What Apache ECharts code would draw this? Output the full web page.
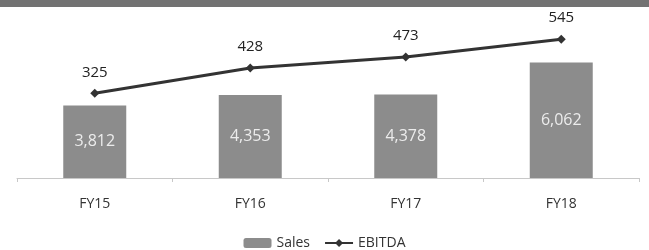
<!DOCTYPE html>
<html>
<head>
<meta charset="utf-8">
<script src="https://cdn.jsdelivr.net/npm/echarts@6/dist/echarts.min.js"></script>
<style>
  html, body { margin: 0; padding: 0; background: #fff; }
  #chart { width: 649px; height: 250px; }
</style>
</head>
<body>
<div id="chart"></div>
<script>
// data
var years = ['FY15', 'FY16', 'FY17', 'FY18']
var sales = [3812, 4353, 4378, 6062]
var ebitda = [325, 428, 473, 545]

var chart = echarts.init(document.getElementById('chart'))

chart.setOption({
  animation: false,
  textStyle: { fontFamily: 'Open Sans' },
  graphic: [
    {
      type: 'rect',
      left: 0, top: 0,
      shape: { width: 649, height: 7 },
      style: { fill: '#727272' }
    }
  ],
  legend: {
    top: 231,
    left: 'center',
    itemGap: 14,
    itemWidth: 28,
    itemHeight: 10,
    textStyle: { fontSize: 14, color: '#333' },
    data: ['Sales', 'EBITDA']
  },
  grid: {
    left: 17,
    right: 10,
    top: 10,
    bottom: 72
  },
  xAxis: {
    type: 'category',
    data: years,
    axisLine: { lineStyle: { color: '#c8c8c8' } },
    axisTick: { show: true, length: 4, lineStyle: { color: '#c8c8c8' } },
    axisLabel: { fontSize: 14, color: '#333', margin: 19 }
  },
  yAxis: [
    { type: 'value', min: 0, max: 8820, show: false, splitLine: { show: false } },
    { type: 'value', min: -20, max: 664, show: false, splitLine: { show: false } }
  ],
  series: [
    {
      name: 'Sales',
      type: 'bar',
      data: sales,
      barWidth: 63,
      itemStyle: { color: '#8c8c8c' },
      label: {
        show: true,
        position: 'inside',
        fontSize: 16,
        color: '#ececec',
        formatter: function (p) { return p.value.toLocaleString('en-US') }
      }
    },
    {
      name: 'EBITDA',
      type: 'line',
      yAxisIndex: 1,
      data: ebitda,
      symbol: 'diamond',
      symbolSize: 9,
      lineStyle: { color: '#333', width: 3 },
      itemStyle: { color: '#333' },
      label: {
        show: true,
        position: 'top',
        distance: 9,
        fontSize: 15,
        color: '#222'
      }
    }
  ]
})
</script>
</body>
</html>
